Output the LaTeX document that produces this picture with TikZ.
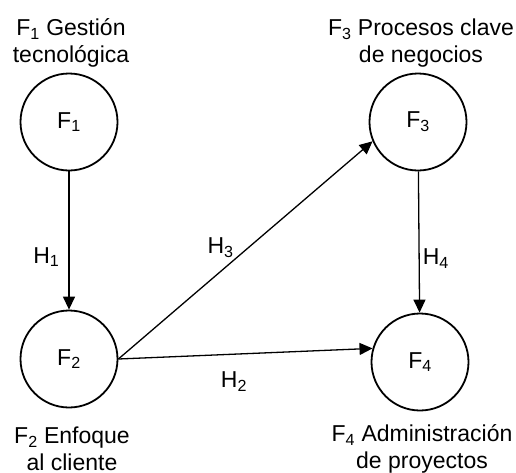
\documentclass[tikz,border=0pt]{standalone}
\usepackage{fontspec}
\setmainfont{Liberation Sans}
\usetikzlibrary{arrows.meta}

\tikzset{
	factor/.style={draw, circle, line width=1.8pt, minimum size=97pt, inner sep=0pt},
	caption/.style={align=center, inner sep=0pt},
	hyp/.style={inner sep=2pt},
	path/.style={line width=1.3pt, -{Triangle[length=13pt,width=12pt]}}
}

\begin{document}
\begin{tikzpicture}[x=1pt, y=-1pt, font=\fontsize{23}{26.5}\selectfont]

	\useasboundingbox (0,0) rectangle (516,472);

	% factors
	\node[factor] (f1) at (69,122) {F\textsubscript{1}};
	\node[factor] (f2) at (69,359) {F\textsubscript{2}};
	\node[factor] (f3) at (418,122) {F\textsubscript{3}};
	\node[factor] (f4) at (420,362) {F\textsubscript{4}};

	% names of the factors
	\node[caption] (n1) at (71,43) {F\textsubscript{1} Gestión\\tecnológica};
	\node[caption] (n2) at (72,449) {F\textsubscript{2} Enfoque\\al cliente};
	\node[caption] (n3) at (421,43) {F\textsubscript{3} Procesos clave\\de negocios};
	\node[caption] (n4) at (422,449) {F\textsubscript{4} Administración\\de proyectos};

	% hypotheses
	\draw[path] (f1) -- node[hyp, pos=0.62, left=7pt] {H\textsubscript{1}} (f2);
	\draw[path] (f2.east) -- node[hyp, pos=0.455, below=15pt] {H\textsubscript{2}} (f4.164);
	\draw[path] (f2.east) -- node[hyp, pos=0.46, anchor=south east, inner sep=1pt] {H\textsubscript{3}} (f3.203);
	\draw[path] (f3) -- node[hyp, pos=0.62, right=1pt] {H\textsubscript{4}} (f4);

\end{tikzpicture}
\end{document}
